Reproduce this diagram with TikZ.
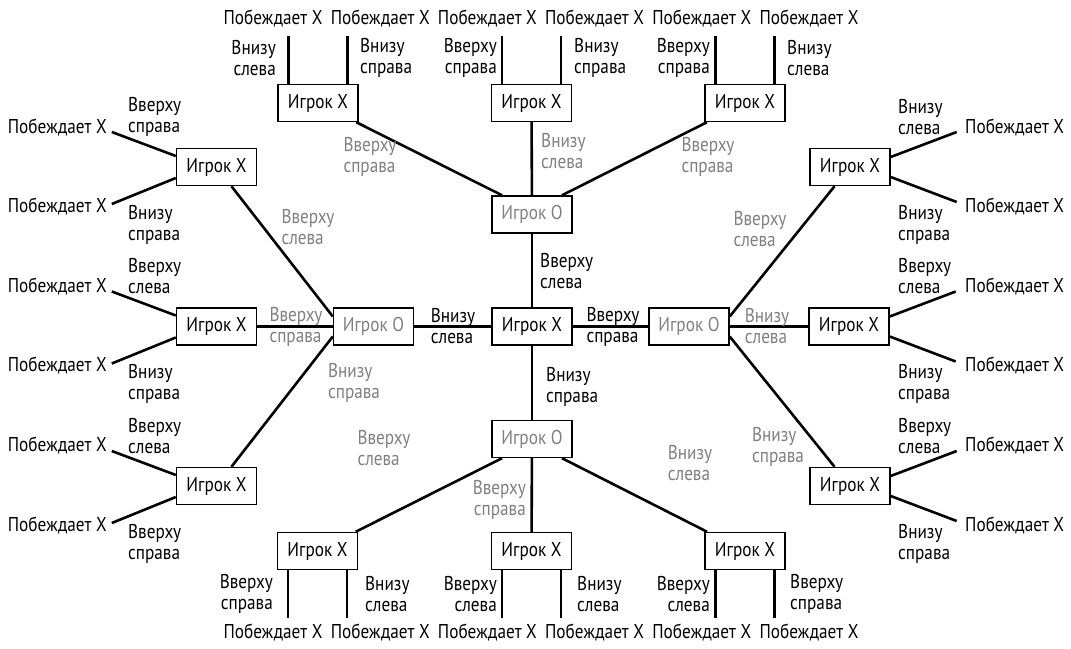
\documentclass[tikz,border=0pt]{standalone}
\usepackage{fontspec}
\setmainfont{PT Sans}[FakeStretch=0.86]
\usetikzlibrary{calc}
\definecolor{grayc}{HTML}{808080}
\begin{document}
\begin{tikzpicture}[x=1pt,y=-1pt,
  every node/.style={font=\fontsize{20}{21}\selectfont, inner sep=0pt},
  box/.style={draw, line width=1.4pt, fill=white, minimum width=80pt, minimum height=37pt},
  obox/.style={box, text=grayc},
  link/.style={line width=2.6pt},
  lbl/.style={align=left},
  rlbl/.style={align=right},
  glbl/.style={align=left, text=grayc},
  grlbl/.style={align=right, text=grayc},
]
\useasboundingbox[fill=white] (0,0) rectangle (1071,648);

% root and the four O positions
\node[box]  (cX) at (532,326.5) {Игрок X};
\node[obox] (oT) at (532,214.5) {Игрок O};
\node[obox] (oL) at (373.5,326.5) {Игрок O};
\node[obox] (oR) at (689,326.5) {Игрок O};
\node[obox] (oB) at (532,439) {Игрок O};

% leaf X positions
\node[box] (tL) at (318,103) {Игрок X};
\node[box] (tM) at (531.5,103) {Игрок X};
\node[box] (tR) at (745,103) {Игрок X};
\node[box] (bL) at (317.5,551) {Игрок X};
\node[box] (bM) at (531.5,551) {Игрок X};
\node[box] (bR) at (745,551) {Игрок X};
\node[box] (lT) at (216.5,167) {Игрок X};
\node[box] (lM) at (216.5,326.5) {Игрок X};
\node[box] (lB) at (216.5,486) {Игрок X};
\node[box] (rT) at (850,167) {Игрок X};
\node[box] (rM) at (849,326.5) {Игрок X};
\node[box] (rB) at (850,486) {Игрок X};

% moves from the root
\draw[link] (cX) -- (oT);
\draw[link] (cX) -- (oL);
\draw[link] (cX) -- (oR);
\draw[link] (cX) -- (oB);

% moves from the O positions
\draw[link] ($(oT.north)+(-30,0)$) -- (tL);
\draw[link] (oT) -- (tM);
\draw[link] ($(oT.north)+(30,0)$) -- (tR);
\draw[link] ($(oB.south)+(-30,0)$) -- (bL);
\draw[link] (oB) -- (bM);
\draw[link] ($(oB.south)+(30,0)$) -- (bR);
\draw[link] ($(oL.west)+(0,-10)$) -- (lT);
\draw[link] (oL) -- (lM);
\draw[link] ($(oL.west)+(0,10)$) -- (lB);
\draw[link] ($(oR.east)+(0,-10)$) -- (rT);
\draw[link] (oR) -- (rM);
\draw[link] ($(oR.east)+(0,10)$) -- (rB);

% winning moves from the leaves
\foreach \n in {tL,tM,tR}{
  \draw[link] ($(\n.north)+(-29.5,0)$) -- ++(0,-48);
  \draw[link] ($(\n.north)+(29.5,0)$) -- ++(0,-48);
}
\foreach \n in {bL,bM,bR}{
  \draw[link] ($(\n.south)+(-29.5,0)$) -- ++(0,48);
  \draw[link] ($(\n.south)+(29.5,0)$) -- ++(0,48);
}
\foreach \n in {lT,lM,lB}{
  \draw[link] ($(\n.west)+(0,-11)$) -- ++(-64,-24);
  \draw[link] ($(\n.west)+(0,11)$) -- ++(-64,26);
}
\foreach \n in {rT,rM,rB}{
  \draw[link] ($(\n.east)+(0,-10)$) -- ++(66,-25);
  \draw[link] ($(\n.east)+(0,10)$) -- ++(66,25);
}

% outcomes
\foreach \i in {0,...,5}{
  \node (wt\i) at ({273+107.2*\i},19) {Побеждает X};
  \node (wb\i) at ({273+107.2*\i},633) {Побеждает X};
}
\foreach \y [count=\k] in {128,207,287,366,446,526}{
  \node[anchor=east] (wl\k) at (107,\y) {Побеждает X};
  \node[anchor=west] (wr\k) at (965,\y) {Побеждает X};
}

% labels of the root moves
\node[lbl, anchor=west] (c1) at (540,271) {Вверху\\слева};
\node[lbl] (c2) at (453,326.5) {Внизу\\слева};
\node[lbl] (c3) at (613,326.5) {Вверху\\справа};
\node[lbl, anchor=west] (c4) at (546,387) {Внизу\\справа};

% labels of the O moves
\node[glbl] (g1) at (370,157) {Вверху\\справа};
\node[glbl, anchor=west] (g2) at (541,151) {Внизу\\слева};
\node[glbl] (g3) at (708,157) {Вверху\\справа};
\node[glbl] (g4) at (308,227) {Вверху\\слева};
\node[glbl] (g5) at (296,326.5) {Вверху\\справа};
\node[glbl] (g6) at (354,383) {Внизу\\справа};
\node[glbl] (g7) at (760,229) {Вверху\\слева};
\node[glbl] (g8) at (767,326.5) {Внизу\\слева};
\node[glbl] (g9) at (778,447) {Внизу\\справа};
\node[glbl] (g10) at (384,448) {Вверху\\слева};
\node[grlbl, anchor=east] (g11) at (526,500) {Вверху\\справа};
\node[glbl] (g12) at (690,463) {Внизу\\слева};

% labels of the winning moves, top row
\node[rlbl, anchor=east] (t1) at (276,58) {Внизу\\слева};
\node[lbl, anchor=west] (t2) at (360,58) {Внизу\\справа};
\node[rlbl, anchor=east] (t3) at (497,58) {Вверху\\справа};
\node[lbl, anchor=west] (t4) at (574,58) {Внизу\\справа};
\node[rlbl, anchor=east] (t5) at (710,58) {Вверху\\справа};
\node[lbl, anchor=west] (t6) at (787,58) {Внизу\\слева};

% bottom row
\node[rlbl, anchor=east] (b1) at (273,594) {Вверху\\справа};
\node[lbl, anchor=west] (b2) at (365,594) {Внизу\\слева};
\node[rlbl, anchor=east] (b3) at (497,594) {Вверху\\слева};
\node[lbl, anchor=west] (b4) at (577,594) {Внизу\\слева};
\node[rlbl, anchor=east] (b5) at (710,594) {Вверху\\слева};
\node[lbl, anchor=west] (b6) at (790,594) {Вверху\\справа};

% left column
\node[lbl, anchor=west] (l1) at (128,117) {Вверху\\справа};
\node[lbl, anchor=west] (l2) at (128,225) {Внизу\\справа};
\node[lbl, anchor=west] (l3) at (128,276) {Вверху\\слева};
\node[lbl, anchor=west] (l4) at (128,384) {Внизу\\справа};
\node[lbl, anchor=west] (l5) at (128,436) {Вверху\\слева};
\node[lbl, anchor=west] (l6) at (128,544) {Вверху\\справа};

% right column
\node[lbl, anchor=west] (r1) at (898,117) {Внизу\\слева};
\node[lbl, anchor=west] (r2) at (898,225) {Внизу\\справа};
\node[lbl, anchor=west] (r3) at (898,276) {Вверху\\слева};
\node[lbl, anchor=west] (r4) at (898,384) {Внизу\\справа};
\node[lbl, anchor=west] (r5) at (898,436) {Вверху\\слева};
\node[lbl, anchor=west] (r6) at (898,544) {Внизу\\справа};
\end{tikzpicture}
\end{document}
